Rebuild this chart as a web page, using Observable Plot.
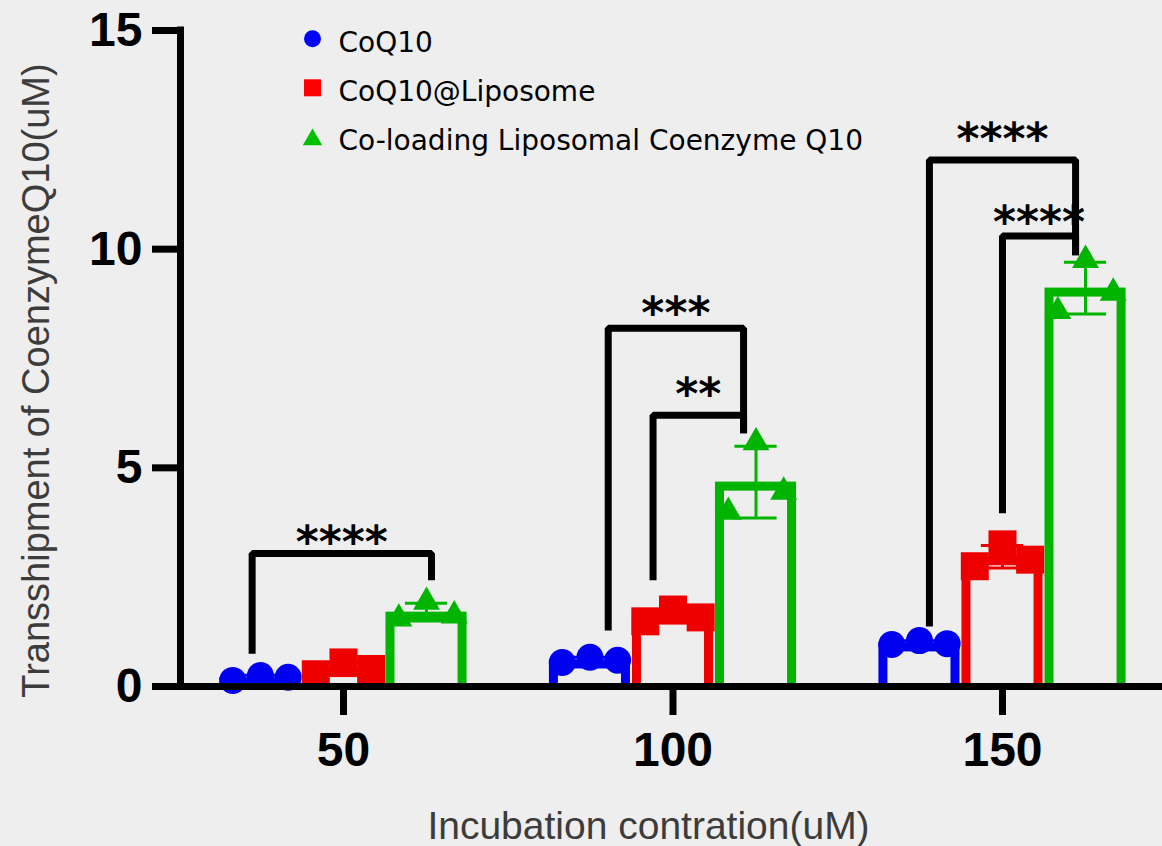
<!DOCTYPE html>
<html>
<head>
<meta charset="utf-8">
<script src="https://cdn.jsdelivr.net/npm/d3@7"></script>
<script src="https://cdn.jsdelivr.net/npm/@observablehq/plot@0.6"></script>
<style>
  html, body { margin: 0; padding: 0; background: #eeeeee; }
  #chart { width: 1162px; height: 846px; }
</style>
</head>
<body>
<div id="chart"></div>
<script>
// ---------------- data ----------------
const groups = [50, 100, 150];
const seriesNames = ["CoQ10", "CoQ10@Liposome", "Co-loading Liposomal Coenzyme Q10"];
const seriesColors = ["#0000f0", "#ee0000", "#00b400"];
const legendColors = ["#0000ff", "#ff0000", "#00c000"];
const seriesSymbols = ["circle", "square", "triangle"];

// three replicates per concentration (50, 100, 150 uM)
const valuesCoQ10     = [[0.14, 0.25, 0.21], [0.55, 0.67, 0.60], [0.96, 1.05, 0.98]];
const valuesLiposome  = [[0.28, 0.55, 0.40], [1.49, 1.76, 1.58], [2.75, 3.25, 2.90]];
const valuesCoLoading = [[1.55, 1.93, 1.62], [3.99, 5.58, 4.45], [8.58, 9.75, 9.00]];

const yTicks = [0, 5, 10, 15];
const xTicks = [50, 100, 150];
const yTitle = "Transshipment of CoenzymeQ10(uM)";
const xTitle = "Incubation contration(uM)";

// significance brackets (legs given in series-index units within the group)
const bracketGroup   = [50, 100, 100, 150, 150];
const bracketFrom    = [-0.1, 0.22, 0.76, 0.12, 1.0];
const bracketTo      = [2.06, 1.85, 1.85, 1.88, 1.88];
const bracketTop     = [3.04, 8.19, 6.20, 12.04, 10.30];
const bracketFromEnd = [0.75, 1.28, 2.43, 1.37, 3.96];
const bracketToEnd   = [2.43, 5.79, 5.79, 9.86, 9.86];
const bracketLabel   = ["****", "***", "**", "****", "****"];
const bracketLabelY  = [3.52, 8.74, 6.89, 12.72, 10.82];

// ---------------- layout (x units) ----------------
const seriesStep = 12.6, barHalf = 6.15, jitter = 4.2, capHalf = 3.2;
const xDomain = [25.27, 174.28];
const markerR = [13.5, 15.8, 10];

// ---------------- derived tables ----------------
const allValues = [valuesCoQ10, valuesLiposome, valuesCoLoading];
const points = [];
const stats = [];
allValues.forEach((ser, s) => {
  ser.forEach((reps, gi) => {
    const cx = groups[gi] + (s - 1) * seriesStep;
    reps.forEach((v, k) => points.push({series: s, x: cx + (k - 1) * jitter, y: v}));
    stats.push({series: s, cx, mean: d3.mean(reps), sd: d3.deviation(reps), color: seriesColors[s]});
  });
});
const caps = stats.flatMap(d => [
  {series: d.series, cx: d.cx, y: d.mean + d.sd, color: d.color},
  {series: d.series, cx: d.cx, y: d.mean - d.sd, color: d.color}
]);
const bracketPts = [];
const bracketText = [];
bracketGroup.forEach((g, i) => {
  const xL = g + (bracketFrom[i] - 1) * seriesStep;
  const xR = g + (bracketTo[i] - 1) * seriesStep;
  bracketPts.push({id: i, x: xL, y: bracketFromEnd[i]}, {id: i, x: xL, y: bracketTop[i]},
                  {id: i, x: xR, y: bracketTop[i]}, {id: i, x: xR, y: bracketToEnd[i]});
  bracketText.push({x: (xL + xR) / 2, y: bracketLabelY[i], text: bracketLabel[i]});
});

// ---------------- marks ----------------
const marks = [
  Plot.rect(stats, {
    x1: d => d.cx - barHalf, x2: d => d.cx + barHalf, y1: 0, y2: "mean",
    fill: "none", stroke: "color", strokeWidth: 9,
    insetTop: 4.5, insetLeft: 4.5, insetRight: 4.5, insetBottom: -6, clip: true
  }),
  Plot.ruleX(stats, {x: "cx", y1: d => d.mean - d.sd, y2: d => d.mean + d.sd, stroke: "color", strokeWidth: 3}),
  Plot.ruleY(caps, {y: "y", x1: d => d.cx - capHalf, x2: d => d.cx + capHalf, stroke: "color", strokeWidth: 3}),
  ...seriesNames.map((name, s) => Plot.dot(points.filter(p => p.series === s), {
    x: "x", y: "y", fill: seriesColors[s], symbol: seriesSymbols[s], r: markerR[s]
  })),
  Plot.line(bracketPts, {x: "x", y: "y", z: "id", stroke: "black", strokeWidth: 7,
    strokeLinejoin: "miter", strokeLinecap: "butt"}),
  Plot.text(bracketText, {x: "x", y: "y", text: "text", fontSize: 44, fontWeight: "bold",
    fontFamily: "DejaVu Sans", fill: "black", lineAnchor: "middle", dy: 10}),
  // axes
  Plot.ruleX([xDomain[0]], {x: d => d, y1: 0, y2: 15, stroke: "black", strokeWidth: 7, strokeLinecap: "square"}),
  Plot.ruleY([0], {y: d => d, x1: xDomain[0], x2: xDomain[1], stroke: "black", strokeWidth: 7}),
  Plot.axisY({ticks: yTicks, tickSize: 28, tickPadding: 10, strokeWidth: 7, fontSize: 48,
    fontWeight: "bold", label: null, tickFormat: d => d}),
  Plot.axisX({ticks: xTicks, tickSize: 29, tickPadding: 16, strokeWidth: 7, fontSize: 48,
    fontWeight: "bold", label: null, tickFormat: d => d}),
  Plot.text([yTitle], {text: d => d, frameAnchor: "left", rotate: -90, textAnchor: "middle",
    lineAnchor: "bottom", dx: -132, dy: 22, fontSize: 38, fill: "#3c3c3c"}),
  Plot.text([xTitle], {text: d => d, frameAnchor: "bottom", textAnchor: "middle",
    lineAnchor: "bottom", dx: -23, dy: 152, fontSize: 39, fill: "#3c3c3c"}),
  // legend
  ...seriesNames.map((name, i) => Plot.dot([name], {frameAnchor: "top-left", dx: 132,
    dy: 8.3 + 49 * i + (seriesSymbols[i] === "triangle" ? 2.8 : 0),
    symbol: seriesSymbols[i], fill: legendColors[i], r: [8.5, 9.6, 7.2][i]})),
  ...seriesNames.map((name, i) => Plot.text([name], {text: d => d, frameAnchor: "top-left",
    dx: 158, dy: 21.7 + 49 * i, textAnchor: "start", lineAnchor: "bottom",
    fontSize: 28, fontFamily: "DejaVu Sans", fill: "black"}))
];

const chart = Plot.plot({
  width: 1162, height: 846,
  marginLeft: 180, marginRight: 0, marginTop: 30, marginBottom: 160,
  x: {domain: xDomain},
  y: {domain: [0, 15]},
  color: {type: "identity"},
  style: {background: "#eeeeee", fontFamily: "'Liberation Sans', Arial, sans-serif", color: "black", overflow: "visible"},
  marks
});
document.getElementById("chart").appendChild(chart);
</script>
</body>
</html>
